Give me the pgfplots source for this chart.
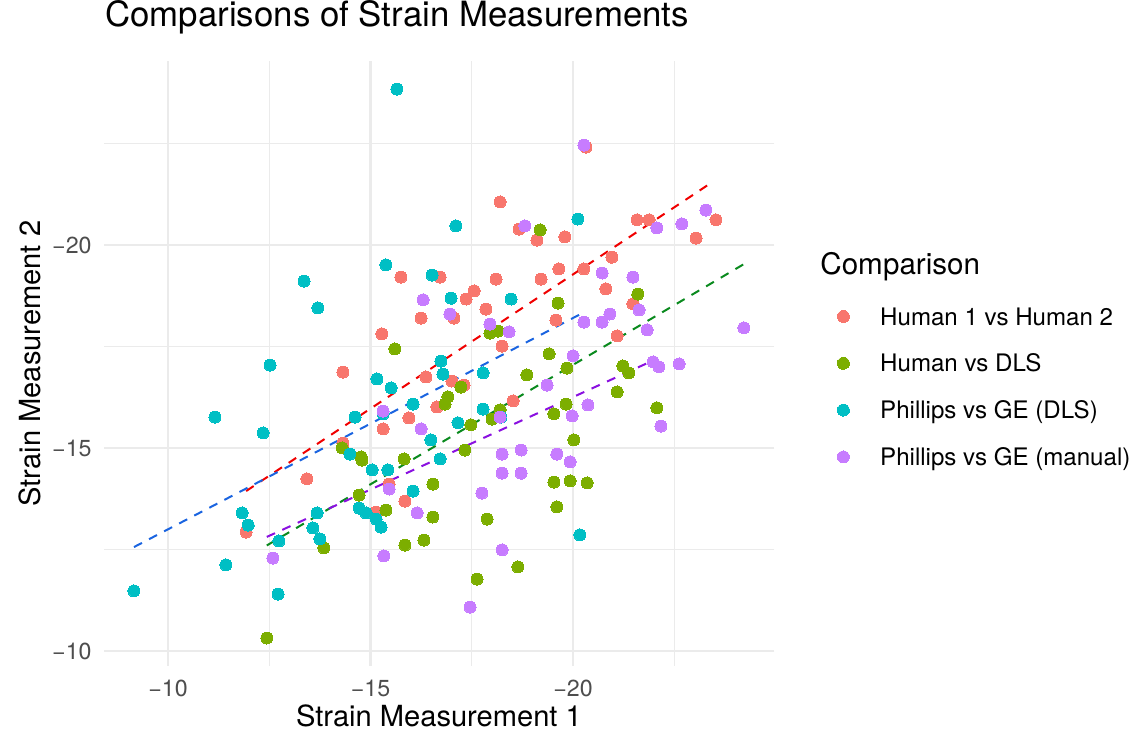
\documentclass[border=0pt]{standalone}
\usepackage{fontspec}
\setmainfont{TeX Gyre Heros}
\usepackage{pgfplots}
\pgfplotsset{compat=1.18}
\definecolor{cR}{HTML}{F8766D}
\definecolor{cG}{HTML}{7CAE00}
\definecolor{cT}{HTML}{00BFC4}
\definecolor{cP}{HTML}{C77CFF}
\definecolor{lR}{HTML}{F00000}
\definecolor{lB}{HTML}{1A64E0}
\definecolor{lG}{HTML}{0A8A1E}
\definecolor{lP}{HTML}{8A10E0}
\definecolor{gridc}{HTML}{EBEBEB}
\definecolor{tickc}{HTML}{4D4D4D}
\begin{document}
\begin{tikzpicture}
\path[use as bounding box] (0,0) rectangle (566.5pt,366.5pt);
\begin{axis}[
 at={(51.8pt,33.7pt)}, anchor=south west,
 scale only axis, width=335.35pt, height=302.05pt,
 x dir=reverse, y dir=reverse,
 xmin=-24.97, xmax=-8.41, ymin=-24.52, ymax=-9.64,
 xtick={-10,-15,-20}, xticklabels={−10,−15,−20},
 ytick={-10,-15,-20}, yticklabels={−10,−15,−20},
 minor xtick={-12.5,-17.5,-22.5}, minor ytick={-12.5,-17.5,-22.5},
 grid=both,
 major grid style={color=gridc, line width=1.07pt},
 minor grid style={color=gridc, line width=0.53pt},
 axis line style={draw=none},
 major tick length=0pt, minor tick length=0pt,
 tick style={draw=none},
 ticklabel style={font=\fontsize{11.6}{13}\selectfont, text=tickc},
 xticklabel style={anchor=base, yshift=-15.45pt},
 yticklabel style={anchor=east, inner xsep=0pt, xshift=-5.8pt},
 xlabel={Strain Measurement 1}, ylabel={Strain Measurement 2},
 label style={font=\fontsize{14.55}{16}\selectfont},
 xlabel style={at={(axis description cs:0.5,-0.1016)}, anchor=base},
 ylabel style={at={(axis description cs:-0.0948,0.5)}, anchor=base},
 title={Comparisons of Strain Measurements},
 title style={at={(axis description cs:0.002,1.0373)}, anchor=base west, inner xsep=0pt, font=\fontsize{17.4}{20}\selectfont},
 legend style={at={(axis description cs:1.0935,0.5928)}, anchor=north west, draw=none, fill=none, inner sep=0pt, row sep=14.8pt, column sep=15.4pt, font=\fontsize{12.05}{13}\selectfont, nodes={inner sep=0pt, text height=8.6pt, text depth=0pt}},
 legend cell align=left,
 every axis plot/.append style={mark=*, mark size=3pt, only marks, mark options={line width=0pt}},
]
\addplot[color=cR] coordinates {
(-20.32,-22.41) (-18.20,-21.06) (-18.67,-20.39) (-19.11,-20.12) (-19.80,-20.20)
(-15.75,-19.21) (-16.72,-19.21) (-17.36,-18.67) (-17.56,-18.87) (-18.10,-19.16)
(-19.21,-19.16) (-19.65,-19.41) (-17.85,-18.42) (-17.06,-18.20) (-16.25,-18.20)
(-19.58,-18.15) (-15.28,-17.81) (-18.25,-17.51) (-14.32,-16.87) (-21.58,-20.62)
(-21.88,-20.62) (-23.53,-20.62) (-23.04,-20.17) (-20.27,-19.41) (-20.96,-19.70)
(-20.81,-18.92) (-21.48,-18.55) (-21.09,-17.76) (-13.43,-14.24) (-11.93,-12.93)
(-16.37,-16.75) (-17.01,-16.65) (-17.31,-16.55) (-16.64,-16.01) (-18.52,-16.16)
(-15.31,-15.47) (-15.95,-15.74) (-14.32,-15.12) (-15.46,-14.11) (-15.85,-13.69)
(-15.14,-13.42)
};
\addlegendentry{Human 1 vs Human 2}
\addplot[color=cG] coordinates {
(-19.19,-20.37) (-19.63,-18.57) (-17.95,-17.83) (-18.15,-17.88) (-15.60,-17.44)
(-19.41,-17.32) (-21.60,-18.79) (-19.85,-16.97) (-21.23,-17.02) (-21.38,-16.85)
(-14.30,-15.00) (-13.85,-12.54) (-12.44,-10.32) (-17.23,-16.50) (-18.86,-16.80)
(-16.84,-16.08) (-16.91,-16.26) (-18.20,-15.94) (-18.00,-15.71) (-17.48,-15.57)
(-19.53,-15.84) (-19.83,-16.08) (-14.77,-14.78) (-14.79,-14.70) (-17.33,-14.95)
(-15.83,-14.73) (-16.54,-14.11) (-19.53,-14.16) (-19.93,-14.19) (-14.72,-13.84)
(-19.60,-13.55) (-15.38,-13.47) (-16.54,-13.30) (-17.88,-13.25) (-15.85,-12.61)
(-16.32,-12.73) (-18.64,-12.07) (-17.63,-11.77) (-21.09,-16.38) (-22.07,-15.99)
(-20.02,-15.20) (-20.35,-14.14)
};
\addlegendentry{Human vs DLS}
\addplot[color=cT] coordinates {
(-15.65,-23.84) (-17.11,-20.47) (-20.12,-20.64) (-15.38,-19.51) (-16.52,-19.26)
(-16.99,-18.69) (-18.47,-18.67) (-13.36,-19.11) (-13.70,-18.45) (-16.74,-17.14)
(-12.52,-17.04) (-11.16,-15.76) (-12.35,-15.37) (-11.83,-13.40) (-11.98,-13.10)
(-13.68,-13.40) (-13.58,-13.03) (-13.75,-12.76) (-12.74,-12.71) (-11.43,-12.12)
(-9.16,-11.48) (-12.72,-11.40) (-15.16,-16.70) (-15.51,-16.48) (-16.79,-16.82)
(-17.78,-16.85) (-16.05,-16.08) (-17.78,-15.96) (-18.22,-15.76) (-14.62,-15.76)
(-15.31,-15.84) (-17.16,-15.62) (-16.49,-15.20) (-14.49,-14.85) (-16.72,-14.73)
(-15.04,-14.46) (-15.43,-14.46) (-16.05,-13.94) (-14.72,-13.52) (-14.89,-13.40)
(-15.14,-13.25) (-15.26,-13.05) (-20.17,-12.86)
};
\addlegendentry{Phillips vs GE (DLS)}
\addplot[color=cP] coordinates {
(-20.27,-22.46) (-18.81,-20.47) (-16.30,-18.65) (-16.96,-18.30) (-17.95,-18.05)
(-18.42,-17.86) (-22.07,-20.42) (-22.69,-20.52) (-23.28,-20.86) (-20.72,-19.31)
(-21.48,-19.21) (-21.63,-18.40) (-20.27,-18.10) (-20.72,-18.10) (-20.91,-18.30)
(-21.83,-17.91) (-24.22,-17.96) (-20.00,-17.27) (-21.98,-17.12) (-22.12,-17.00)
(-22.62,-17.07) (-12.59,-12.29) (-19.36,-16.55) (-15.31,-15.91) (-16.25,-15.47)
(-18.20,-15.76) (-18.25,-14.85) (-18.72,-14.95) (-19.60,-14.85) (-19.93,-14.66)
(-18.25,-14.38) (-18.72,-14.38) (-15.46,-13.99) (-17.75,-13.89) (-16.15,-13.40)
(-15.33,-12.34) (-18.25,-12.49) (-17.46,-11.08) (-20.37,-16.06) (-19.98,-15.79)
(-22.17,-15.54)
};
\addlegendentry{Phillips vs GE (manual)}
\addplot[forget plot, no marks, sharp plot, color=lR, line width=1pt, dash pattern=on 4.5pt off 4pt] coordinates {(-11.93,-13.94) (-23.41,-21.53)};
\addplot[forget plot, no marks, sharp plot, color=lB, line width=1pt, dash pattern=on 4.5pt off 4pt] coordinates {(-9.16,-12.56) (-20.15,-18.28)};
\addplot[forget plot, no marks, sharp plot, color=lG, line width=1pt, dash pattern=on 4.5pt off 4pt] coordinates {(-12.44,-12.60) (-24.22,-19.53)};
\addplot[forget plot, no marks, sharp plot, color=lP, line width=1pt, dash pattern=on 4.5pt off 4pt] coordinates {(-12.44,-12.81) (-21.90,-17.12)};
\end{axis}
\node[anchor=base west, inner xsep=0pt, font=\fontsize{14.8}{16}\selectfont] at (410pt,229pt) {Comparison};
\end{tikzpicture}
\end{document}
